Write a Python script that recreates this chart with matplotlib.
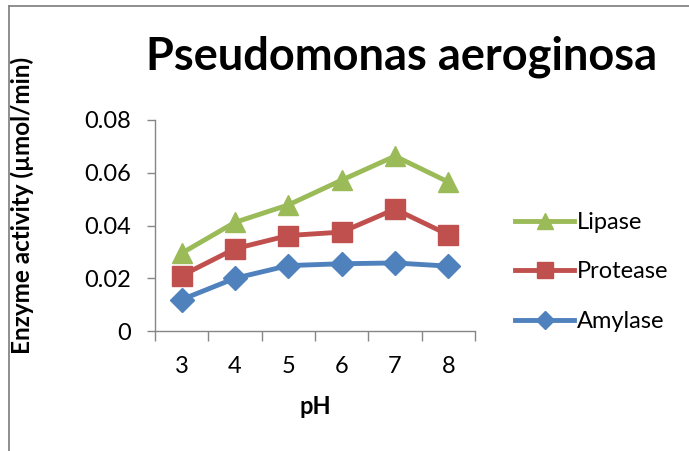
import matplotlib
matplotlib.use("Agg")
import matplotlib.pyplot as plt
from matplotlib.lines import Line2D

ph = ["3", "4", "5", "6", "7", "8"]
lipase = [0.0295, 0.0412, 0.0478, 0.0572, 0.0663, 0.0565]
protease = [0.0210, 0.0312, 0.0362, 0.0375, 0.0462, 0.0365]
amylase = [0.0119, 0.0200, 0.0248, 0.0255, 0.0258, 0.0246]
yticks = [0, 0.02, 0.04, 0.06, 0.08]
ytick_labels = ["0", "0.02", "0.04", "0.06", "0.08"]

plt.rcParams['font.family'] = ['Lato', 'DejaVu Sans']

W, H = 689, 451
fig = plt.figure(figsize=(W / 100, H / 100), dpi=100)
ax = fig.add_axes([155 / W, 1 - 331 / H, (475 - 155) / W, (331 - 120) / H])

# outer chart border (left and top edges visible)
fig.add_artist(Line2D([8.5 / W, 8.5 / W], [0, 1 - 5.5 / H], transform=fig.transFigure,
                      color='#868686', lw=1.3, zorder=10))
fig.add_artist(Line2D([8.5 / W, 1], [1 - 5.5 / H, 1 - 5.5 / H], transform=fig.transFigure,
                      color='#868686', lw=1.3, zorder=10))

x = list(range(len(ph)))
ax.plot(x, lipase, color='#9BBB59', lw=3.5, marker='^', ms=15, label='Lipase')
ax.plot(x, protease, color='#C0504D', lw=3.5, marker='s', ms=14, label='Protease')
ax.plot(x, amylase, color='#4F81BD', lw=3.5, marker='D', ms=12, label='Amylase')

ax.set_xlim(-0.5, len(ph) - 0.5)
ax.set_ylim(0, 0.08)
ax.set_yticks(yticks)
ax.set_yticklabels(ytick_labels)
ax.set_xticks(x)
ax.set_xticklabels(ph)
ax.set_xticks([i - 0.5 for i in range(len(ph) + 1)], minor=True)
ax.tick_params(axis='x', which='major', length=0, labelsize=17, pad=18)
ax.tick_params(axis='x', which='minor', length=7, color='#868686', width=1)
ax.tick_params(axis='y', length=6, color='#868686', width=1, labelsize=17, pad=11)

for s in ['top', 'right']:
    ax.spines[s].set_visible(False)
for s in ['left', 'bottom']:
    ax.spines[s].set_color('#868686')
    ax.spines[s].set_linewidth(1)

fig.text(402 / W, 1 - 57 / H, 'Pseudomonas aeroginosa', ha='center', va='center',
         fontsize=32.5, fontweight='bold')
fig.text(22 / W, 1 - 205 / H, 'Enzyme activity (µmol/min)', ha='center', va='center',
         rotation=90, fontsize=17.5, fontweight='bold')
fig.text(315 / W, 1 - 407 / H, 'pH', ha='center', va='center', fontsize=17, fontweight='bold')

handles, labels = ax.get_legend_handles_labels()
fig.legend(handles, labels, loc='center left', bbox_to_anchor=(494 / W, 1 - 272 / H),
           frameon=False, fontsize=17, handlelength=2.5, handletextpad=0.1,
           labelspacing=1.2, markerscale=0.8)

fig.savefig('out.png', dpi=100)
